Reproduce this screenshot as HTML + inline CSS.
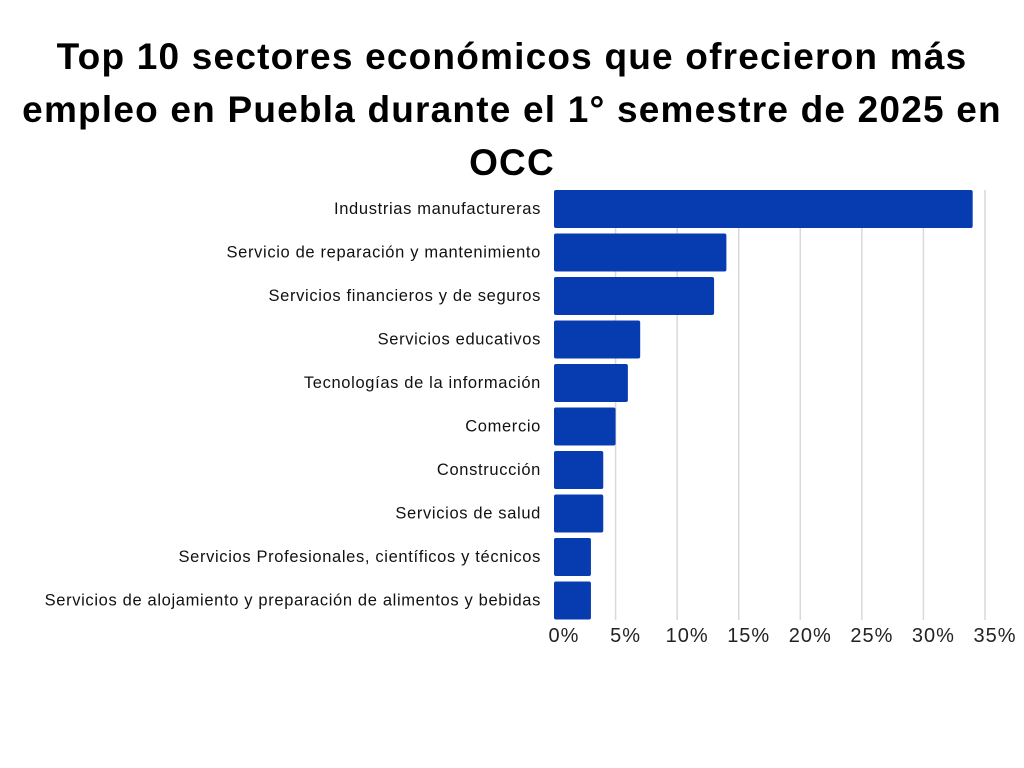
<!DOCTYPE html>
<html><head><meta charset="utf-8">
<style>
body{margin:0;background:#fff;width:1024px;height:768px;overflow:hidden;font-family:"Liberation Sans",sans-serif;}
#title{position:absolute;left:-20px;top:30px;width:1064px;text-align:center;font-weight:bold;font-size:37px;letter-spacing:1.2px;line-height:53px;color:#000;}
svg{position:absolute;left:0;top:0;}
</style></head><body>
<div id="title">Top 10 sectores económicos que ofrecieron más<br>empleo en Puebla durante el 1° semestre de 2025 en<br>OCC</div>
<svg id="chart" width="1024" height="768"></svg>
<script>
const categories=["Industrias manufactureras","Servicio de reparación y mantenimiento","Servicios financieros y de seguros","Servicios educativos","Tecnologías de la información","Comercio","Construcción","Servicios de salud","Servicios Profesionales, científicos y técnicos","Servicios de alojamiento y preparación de alimentos y bebidas"];
const values=[34,14,13,7,6,5,4,4,3,3];
const ticks=[0,5,10,15,20,25,30,35];
const tickLabels=["0%","5%","10%","15%","20%","25%","30%","35%"];
const svg=document.getElementById('chart');
const NS="http://www.w3.org/2000/svg";
const x0=554,x1=985,vmax=35,yTop=190,step=43.5,bh=38;
const xs=v=>x0+(x1-x0)*v/vmax;
const ys=i=>yTop+i*step;
function mk(t,a){const e=document.createElementNS(NS,t);for(const k in a)e.setAttribute(k,a[k]);svg.appendChild(e);return e;}
ticks.forEach((t,i)=>{
 if(t>0){const g=mk('line',{x1:xs(t),x2:xs(t),y1:190,y2:620,stroke:'#d9d9d9','stroke-width':1.5});
 
 }
 const l=mk('text',{x:xs(t)+10,y:642,'text-anchor':'middle','font-size':20,'letter-spacing':1,fill:'#222'});
 l.textContent=tickLabels[i];
 
 
});
categories.forEach((c,i)=>{
 const r=mk('rect',{x:x0,y:ys(i),width:xs(values[i])-x0,height:bh,rx:2,fill:'#073cb0'});
 
 
 const t=mk('text',{x:541,y:ys(i)+bh/2+5,'text-anchor':'end','font-size':16.5,'letter-spacing':0.65,fill:'#111'});
 t.textContent=c;
 
 
});
</script>
</body></html>
